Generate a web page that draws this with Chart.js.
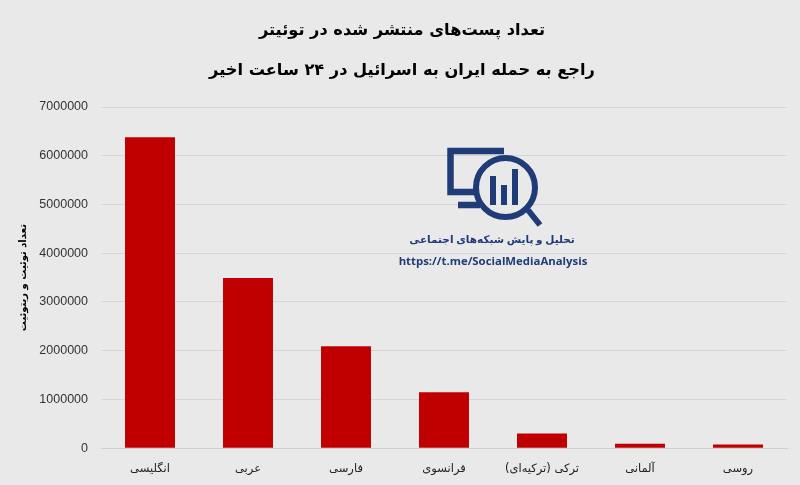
<!DOCTYPE html>
<html>
<head>
<meta charset="utf-8">
<style>
  html, body { margin: 0; padding: 0; background: #e9e9e9; }
  #wrap { position: relative; width: 800px; height: 485px; overflow: hidden; }
  #logo { position: absolute; left: 380px; top: 130px; width: 230px; height: 150px; }
  .logoText { position: absolute; left: 377px; width: 230px; text-align: center; color: #1f3c78; white-space: nowrap; }
</style>
<script src="https://cdn.jsdelivr.net/npm/chart.js@4"></script>
</head>
<body>
<div id="wrap">
  <canvas id="chart" width="800" height="485"></canvas>
  <svg id="logo" viewBox="0 0 230 150">
    <path d="M124 21 H70.5 V62 H96 M78 75 H100" fill="none" stroke="#1f3c78" stroke-width="6.5"/>
    <circle cx="125.5" cy="57.5" r="29.5" fill="#e9e9e9" stroke="#1f3c78" stroke-width="6"/>
    <rect x="110" y="46" width="6" height="29" fill="#1f3c78"/>
    <rect x="121" y="55" width="6" height="20" fill="#1f3c78"/>
    <rect x="132" y="39" width="6" height="36" fill="#1f3c78"/>
    <path d="M148 80 L160 95" stroke="#1f3c78" stroke-width="6"/>
  </svg>
  <div class="logoText" dir="rtl" style="top:233px;font:bold 10.5px 'DejaVu Sans';word-spacing:-1px;">تحلیل و پایش شبکه‌های اجتماعی</div>
  <div class="logoText" style="top:253px;left:378px;font:bold 11.4px 'Open Sans';">https://t.me/SocialMediaAnalysis</div>
</div>
<script>
// values
var categories = ["انگلیسی", "عربی", "فارسی", "فرانسوی", "ترکی (ترکیه‌ای)", "آلمانی", "روسی"];
var posts = [6380000, 3490000, 2090000, 1150000, 300000, 90000, 75000];
var yTicks = [0, 1000000, 2000000, 3000000, 4000000, 5000000, 6000000, 7000000];
var titleLines = ["تعداد پست‌های منتشر شده در توئیتر", "راجع به حمله ایران به اسرائیل در ۲۴ ساعت اخیر"];
var yTitle = "تعداد توئیت و ریتوئیت";

new Chart("chart", {
    type: "bar",
    data: {
        labels: categories,
        datasets: [{
            data: posts,
            backgroundColor: "#c00000",
            barPercentage: 0.51,
            categoryPercentage: 1
        }]
    },
    options: {
        responsive: false,
        animation: false,
        layout: { padding: { left: 17, right: 13, top: 0, bottom: 3 } },
        plugins: {
            legend: { display: false },
            tooltip: { enabled: false },
            title: {
                display: true,
                text: titleLines,
                color: "#000",
                font: { family: "DejaVu Sans", size: 16.2, weight: "bold", lineHeight: "40px" },
                padding: { top: 11, bottom: 16 }
            }
        },
        scales: {
            x: {
                grid: { display: false },
                border: { color: "#cfcfcf" },
                ticks: { color: "#222", font: { family: "DejaVu Sans", size: 11.5 }, padding: 6, maxRotation: 0 }
            },
            y: {
                min: 0,
                max: 7000000,
                afterBuildTicks: function (axis) {
                    axis.ticks = yTicks.map(function (v) { return { value: v }; });
                },
                afterFit: function (axis) {
                    axis.width = 84;
                },
                grid: { color: "#d6d6d6", drawTicks: false },
                border: { display: false },
                ticks: {
                    color: "#333",
                    font: { family: "Liberation Sans", size: 12.5 },
                    padding: 13,
                    callback: function (v) { return String(v); }
                },
                title: {
                    display: true,
                    text: yTitle,
                    color: "#000",
                    font: { family: "DejaVu Sans", size: 10, weight: "bold" },
                    padding: { top: 0, bottom: 4 }
                }
            }
        }
    }
});
</script>
</body>
</html>
